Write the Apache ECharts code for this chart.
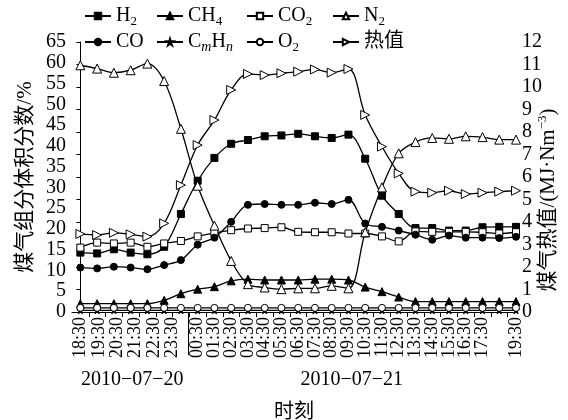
<!DOCTYPE html>
<html>
<head>
<meta charset="utf-8">
<script src="https://cdn.jsdelivr.net/npm/echarts@6/dist/echarts.min.js"></script>
<style>
  html, body { margin: 0; padding: 0; background: #fff; }
  #chart { width: 568px; height: 420px; }
</style>
</head>
<body>
<div id="chart"></div>
<script>
// Hourly clock labels along the time axis, and the sample slot each one sits under
const hourLabels = ['18:30','19:30','20:30','21:30','22:30','23:30',
  '00:30','01:30','02:30','03:30','04:30','05:30','06:30','07:30','08:30','09:30',
  '10:30','11:30','12:30','13:30','14:30','15:30','16:30','17:30','18:30','19:30'];
const hourSlots = [0, 1.1, 2.2, 3.3, 4.4, 5.5,
  7, 8, 9, 10, 11, 12, 13, 14, 15, 16,
  17, 18, 19, 20, 21, 22, 23, 24, 25, 26];
const dateLabels = ['2010\u221207\u221220', '2010\u221207\u221221'];
const dayBoundarySlot = 6.4;

// Gas composition, volume fraction / %
const h2   = [14.3,14.1,15.1,14.3,13.9,15.7,23.6,31.6,37.1,40.5,41.4,42.3,42.5,42.9,42.3,41.9,42.7,36.9,28.0,23.6,20.2,20.2,19.6,19.6,20.4,20.5,20.5];
const ch4  = [2.0,2.0,2.0,2.0,2.0,2.8,4.4,5.5,6.1,7.5,7.9,7.7,7.7,7.7,7.9,7.9,7.7,6.0,4.9,3.6,2.5,2.5,2.5,2.5,2.5,2.5,2.5];
const co2  = [15.5,16.7,16.5,16.7,15.7,16.5,17.1,18.2,19.0,19.7,20.1,20.2,20.4,19.3,19.2,19.2,18.9,18.9,18.2,17.0,19.4,19.3,19.3,19.3,19.2,18.9,19.2];
const n2   = [59.4,58.6,57.6,58.2,59.8,55.6,44.1,30.4,20.8,12.3,6.7,5.9,5.5,5.7,5.7,6.3,5.7,19.2,30.0,38.2,40.9,41.9,41.7,42.3,42.1,41.5,41.5];
const co   = [10.7,10.5,10.9,10.7,10.3,11.3,12.5,16.2,17.9,21.7,25.8,26.0,25.8,25.8,26.3,26.0,27.0,21.3,20.5,19.6,18.6,17.4,18.4,17.9,17.9,17.8,18.1];
const cmhn = [0.4,0.4,0.4,0.4,0.4,0.4,0.4,0.4,0.4,0.4,0.4,0.4,0.4,0.4,0.4,0.4,0.4,0.4,0.4,0.4,0.4,0.4,0.4,0.4,0.4,0.4,0.4];
const o2   = [1.0,1.0,1.0,1.0,1.0,1.0,1.0,1.0,1.0,1.0,1.0,1.0,1.0,1.0,1.0,1.0,1.0,1.0,1.0,1.0,1.0,1.0,1.0,1.0,1.0,1.0,1.0];
// Heating value / (MJ·Nm^-3)
const heat = [3.47,3.42,3.52,3.45,3.35,3.94,5.64,7.42,8.53,9.87,10.58,10.53,10.61,10.68,10.78,10.64,10.80,8.76,7.35,6.16,5.35,5.30,5.39,5.24,5.30,5.35,5.39];

const SERIF = "'Liberation Serif', 'Noto Sans CJK SC', serif";
const STAR = 'path://M50,0 L61,35 L98,35 L68,57 L79,91 L50,70 L21,91 L32,57 L2,35 L39,35 Z';
const RIGHT_TRI = 'path://M0,0 L12,7 L0,14 Z';

const chart = echarts.init(document.getElementById('chart'), null, { renderer: 'canvas' });

function lineSeries(name, values, symbol, size, filled, yAxisIndex) {
  return {
    name: name,
    type: 'line',
    xAxisIndex: 0,
    yAxisIndex: yAxisIndex || 0,
    data: values.map(function (v, i) { return [i, v]; }),
    smooth: 0.35,
    symbol: symbol,
    symbolSize: size,
    showSymbol: true,
    lineStyle: { color: '#000', width: 1.3 },
    itemStyle: { color: filled ? '#000' : '#fff', borderColor: '#000', borderWidth: 1 },
    emphasis: { disabled: true },
    animation: false
  };
}

const legendText = {
  'H2': '{n|H}{s|2}',
  'CH4': '{n|CH}{s|4}',
  'CO2': '{n|CO}{s|2}',
  'N2': '{n|N}{s|2}',
  'CO': '{n|CO}',
  'CmHn': '{n|C}{si|m}{n|H}{si|n}',
  'O2': '{n|O}{s|2}',
  '热值': '{n|热值}'
};
const richText = {
  n: { fontFamily: SERIF, fontSize: 20, lineHeight: 24, color: '#000' },
  s: { fontFamily: SERIF, fontSize: 13, lineHeight: 13, verticalAlign: 'bottom', color: '#000' },
  si: { fontFamily: SERIF, fontSize: 14, lineHeight: 14, fontStyle: 'italic', verticalAlign: 'bottom', color: '#000' }
};
const legendLayout = [
  ['H2', 84, 6], ['CH4', 156, 6], ['CO2', 246, 6], ['N2', 332, 6],
  ['CO', 84, 32], ['CmHn', 156, 32], ['O2', 246, 32], ['热值', 332, 32]
];
const legends = legendLayout.map(function (l) {
  return {
    data: [l[0]], left: l[1], top: l[2], padding: 0,
    itemWidth: 26, itemHeight: 8, selectedMode: false,
    formatter: function (name) { return legendText[name]; },
    textStyle: { rich: richText }
  };
});

// ticks fall between sample slots
const tickSlots = [];
for (let k = 0; k < 26; k++) tickSlots.push(k + 0.5);

function labelAt(v) {
  for (let i = 0; i < hourSlots.length; i++) {
    if (Math.abs(hourSlots[i] - v) < 1e-6) return hourLabels[i];
  }
  return '';
}

const option = {
  animation: false,
  backgroundColor: '#fff',
  legend: legends,
  grid: { left: 72, right: 52, top: 42, bottom: 108, containLabel: false, outerBoundsMode: 'none' },
  xAxis: [
    {
      type: 'value', min: -0.5, max: 26, position: 'bottom',
      axisLine: { show: true, onZero: false, lineStyle: { color: '#000', width: 1 } },
      axisTick: { show: true, inside: false, length: 5, customValues: tickSlots, lineStyle: { color: '#000' } },
      axisLabel: {
        customValues: hourSlots, rotate: 90, margin: 5, color: '#000',
        fontFamily: SERIF, fontSize: 18, lineHeight: 13, formatter: labelAt,
        hideOverlap: false, showMinLabel: true, showMaxLabel: true
      },
      splitLine: { show: false }
    },
    {
      // date captions under the clock labels
      type: 'value', min: -0.5, max: 26, position: 'bottom',
      name: '时刻', nameLocation: 'middle', nameGap: 91, nameMoveOverlap: false,
      nameTextStyle: { fontFamily: SERIF, fontSize: 20, color: '#000' },
      axisLine: { show: false, onZero: false },
      axisTick: { show: false },
      axisLabel: {
        customValues: [3.1, 16.2], margin: 58, color: '#000', fontFamily: SERIF, fontSize: 20,
        formatter: function (v) { return v < 10 ? dateLabels[0] : dateLabels[1]; },
        hideOverlap: false
      },
      splitLine: { show: false }
    }
  ],
  yAxis: [
    {
      type: 'value', min: 0, max: 65, interval: 5, position: 'left',
      name: '煤气组分体积分数/%', nameLocation: 'middle', nameGap: 36, nameMoveOverlap: false,
      nameTextStyle: { fontFamily: SERIF, fontSize: 21, color: '#000' },
      axisLine: { show: false },
      axisTick: { show: false },
      axisLabel: { margin: 6, color: '#000', fontFamily: SERIF, fontSize: 20 },
      splitLine: { show: false }
    },
    {
      type: 'value', min: 0, max: 12, interval: 1, position: 'right',
      name: '{z|煤气热值/(MJ·Nm}{p|\u22123}{z|)}', nameLocation: 'middle', nameGap: 20, nameMoveOverlap: false,
      nameTextStyle: {
        color: '#000', padding: [0, 46, 0, 0],
        rich: {
          z: { fontFamily: SERIF, fontSize: 21, lineHeight: 24, color: '#000' },
          p: { fontFamily: SERIF, fontSize: 13, lineHeight: 13, verticalAlign: 'top', color: '#000' }
        }
      },
      axisLine: { show: true, lineStyle: { color: '#000', width: 1 } },
      axisTick: { show: true, inside: true, length: 4, lineStyle: { color: '#000' } },
      axisLabel: { margin: 6, color: '#000', fontFamily: SERIF, fontSize: 20 },
      splitLine: { show: false }
    }
  ],
  series: [
    lineSeries('H2', h2, 'rect', 7, true),
    lineSeries('CH4', ch4, 'triangle', 8, true),
    lineSeries('CO2', co2, 'rect', 7, false),
    lineSeries('N2', n2, 'triangle', 9, false),
    lineSeries('CO', co, 'circle', 7, true),
    lineSeries('CmHn', cmhn, STAR, 7, true),
    lineSeries('O2', o2, 'circle', 7, false),
    lineSeries('热值', heat, RIGHT_TRI, 9, false, 1)
  ]
};

chart.setOption(option);

// day boundary: a long tick dropped from the time axis between the two dates
const bx = chart.convertToPixel({ xAxisIndex: 0 }, dayBoundarySlot);
const by = chart.convertToPixel({ yAxisIndex: 0 }, 0);
chart.setOption({
  graphic: [{
    type: 'line', silent: true,
    shape: { x1: Math.round(bx) + 0.5, y1: by, x2: Math.round(bx) + 0.5, y2: by + 43 },
    style: { stroke: '#000', lineWidth: 1 }
  }]
});
</script>
</body>
</html>
